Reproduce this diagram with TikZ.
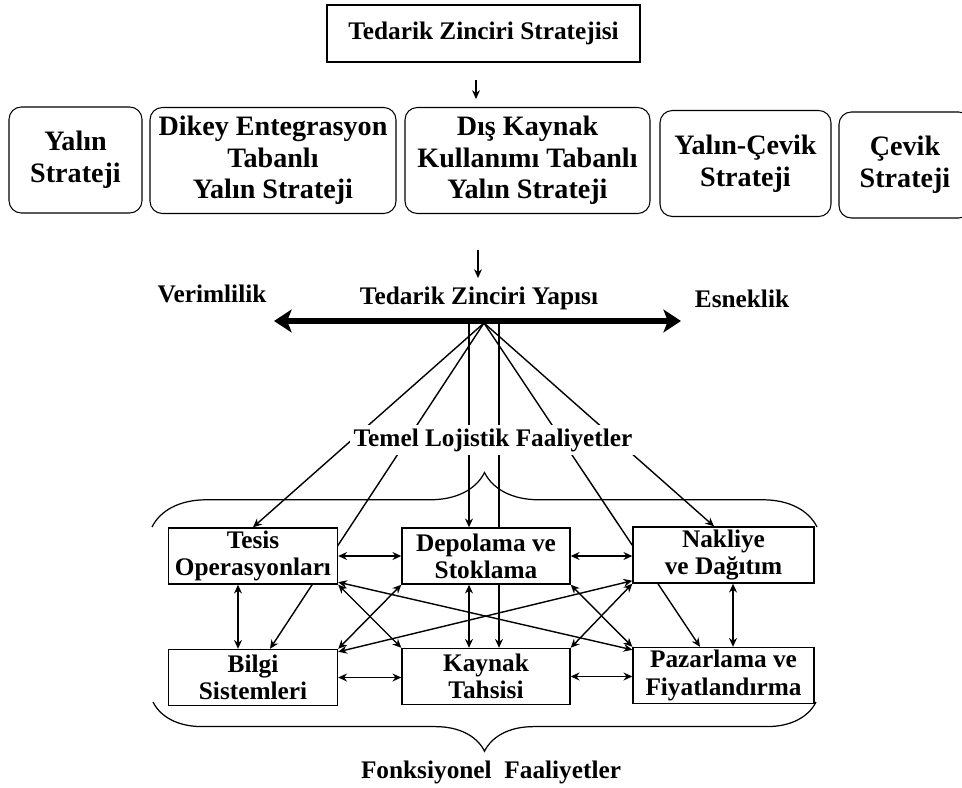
\documentclass[tikz,border=0pt]{standalone}
\usepackage{fontspec}
\setmainfont{Liberation Serif}
\usetikzlibrary{arrows.meta,decorations.pathreplacing,backgrounds}

\begin{document}
\begin{tikzpicture}[x=0.02cm,y=-0.02cm,
  txt/.style={font=\fontsize{14.4}{15.5}\selectfont\bfseries, align=center, inner sep=0pt},
  stratbox/.style={draw, rounded corners=7pt, line width=0.6pt, align=center,
    font=\fontsize{16}{18}\selectfont\bfseries, minimum height=106*0.02cm, inner sep=0pt},
  funcbox/.style={draw, fill=white, line width=0.8pt, align=center,
    font=\fontsize{14.4}{15.5}\selectfont\bfseries, minimum height=56*0.02cm, inner sep=0pt},
  arr/.style={-{Stealth[length=5pt,width=4.5pt]}, line width=0.8pt},
  darr/.style={{Stealth[length=5pt,width=4.5pt]}-{Stealth[length=5pt,width=4.5pt]}, line width=0.8pt},
  brc/.style={decorate, line width=0.7pt}
]
\useasboundingbox (0,0) rectangle (962,787);
\clip (0,0) rectangle (962,787);

% strateji
\node[draw, txt, line width=0.6pt, minimum width=313*0.02cm, minimum height=57*0.02cm] (zs) at (483.5,33.5) {Tedarik Zinciri Stratejisi};
\coordinate (a1) at (476,80);
\coordinate (a1e) at (476,99);
\draw[arr, line width=0.6pt] (a1) -- (a1e);

\node[stratbox, minimum width=133*0.02cm] (yalin) at (75.5,160) {Yalın\\Strateji};
\node[stratbox, minimum width=246*0.02cm] (dikey) at (273,160.5) {Dikey Entegrasyon\\Tabanlı\\Yalın Strateji};
\node[stratbox, minimum width=245*0.02cm] (dis) at (527.5,160.5) {Dış Kaynak\\Kullanımı Tabanlı\\Yalın Strateji};
\node[stratbox, minimum width=171*0.02cm] (yc) at (745.5,163.5) {Yalın-Çevik\\Strateji};
\node[stratbox, minimum width=132*0.02cm] (cevik) at (905,165) {Çevik\\Strateji};

\coordinate (a2) at (478,250);
\coordinate (a2e) at (478,278);
\draw[arr, line width=0.6pt] (a2) -- (a2e);

% yapi
\node[txt] (ver) at (212,294) {Verimlilik};
\node[txt] (tzy) at (479,298) {Tedarik Zinciri Yapısı};
\node[txt] (esn) at (742,299) {Esneklik};
\coordinate (vL) at (274,321);
\coordinate (vR) at (681,321);
\draw[{Stealth[length=10pt,width=13pt,inset=2.5pt]}-{Stealth[length=10pt,width=13pt,inset=2.5pt]}, line width=3.5pt] (vL) -- (vR);

\coordinate (hub) at (484,323);
\coordinate (hubL) at (469,322);
\coordinate (hubR) at (499,322);

\node[txt, fill=white, inner sep=2pt] (temel) at (493,440) {Temel Lojistik Faaliyetler};

% faaliyetler
\node[funcbox, minimum width=169*0.02cm] (tesis) at (253,556) {Tesis\\Operasyonları};
\node[funcbox, minimum width=168*0.02cm] (depo) at (486,556) {Depolama ve\\Stoklama};
\node[funcbox, minimum width=181*0.02cm] (nakl) at (723.5,555) {Nakliye\\ve Dağıtım};
\node[funcbox, minimum width=169*0.02cm] (bilgi) at (253,677.5) {Bilgi\\Sistemleri};
\node[funcbox, minimum width=168*0.02cm] (kayn) at (486,676.5) {Kaynak\\Tahsisi};
\node[funcbox, minimum width=181*0.02cm] (pazar) at (723.5,675.5) {Pazarlama ve\\Fiyatlandırma};

\begin{scope}[on background layer]
\draw[arr] (hub) -- (tesis.north);
\draw[arr] (hub) -- ([xshift=0.34cm]bilgi.north);
\draw[arr] (hubL) -- (hubL |- depo.north);
\draw[arr] (hubR) -- (hubR |- kayn.north);
\draw[arr] (hub) -- ([xshift=-0.19cm]nakl.north);
\draw[arr] (hub) -- ([xshift=-0.47cm]pazar.north);
\end{scope}

\draw[darr] (tesis.east) -- (tesis.east -| depo.west);
\draw[darr] (depo.east) -- (depo.east -| nakl.west);
\draw[darr] (bilgi.east) -- (bilgi.east -| kayn.west);
\draw[darr] (kayn.east) -- (kayn.east -| pazar.west);
\draw[darr] ([xshift=-0.3cm]tesis.south) -- ([xshift=-0.3cm]bilgi.north);
\draw[darr] ([xshift=-0.34cm]depo.south) -- ([xshift=-0.34cm]kayn.north);
\draw[darr] ([xshift=0.19cm]nakl.south) -- ([xshift=0.19cm]pazar.north);
\draw[darr] (tesis.south east) -- (kayn.north west);
\draw[darr] (depo.south west) -- (bilgi.north east);
\draw[darr] ([yshift=0.05cm]tesis.south east) -- ([yshift=-0.06cm]pazar.north west);
\draw[darr] ([yshift=-0.06cm]bilgi.north east) -- ([yshift=0.06cm]nakl.south west);
\draw[darr] (depo.south east) -- (pazar.north west);
\draw[darr] (nakl.south west) -- (kayn.north east);

% parantezler
\draw[brc, decoration={brace, amplitude=31pt}] (152,527) -- (817,527);
\draw[brc, decoration={brace, amplitude=28pt}] (816,702) -- (153,702);
\node[txt] (fonk) at (491,772) {Fonksiyonel\ \ Faaliyetler};

\end{tikzpicture}
\end{document}
